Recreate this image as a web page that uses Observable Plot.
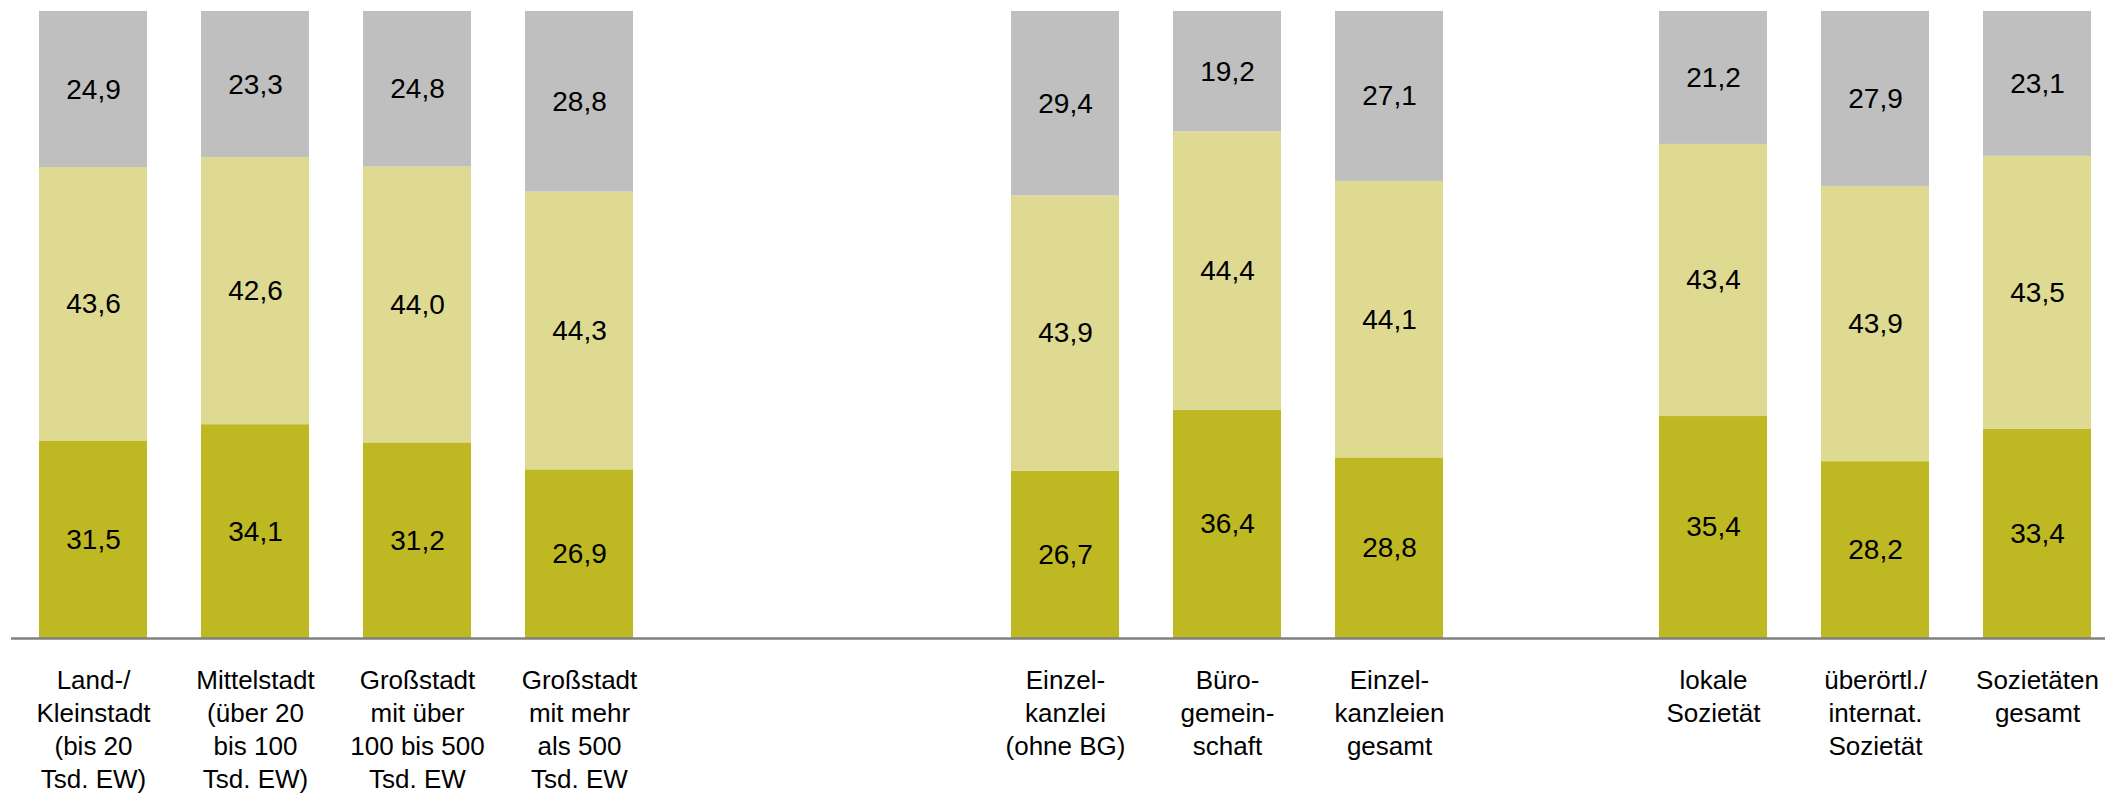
<!DOCTYPE html>
<html>
<head>
<meta charset="utf-8">
<script src="https://cdn.jsdelivr.net/npm/d3@7"></script>
<script src="https://cdn.jsdelivr.net/npm/@observablehq/plot@0.6"></script>
<style>
  html, body { margin: 0; padding: 0; background: #fff; overflow: hidden; }
  #chart svg { display: block; }
</style>
</head>
<body>
<div id="chart"></div>
<script>
// Category labels, in three groups (separated by empty slots)
const group1 = [
  "Land-/\nKleinstadt\n(bis 20\nTsd. EW)",
  "Mittelstadt\n(über 20\nbis 100\nTsd. EW)",
  "Großstadt\nmit über\n100 bis 500\nTsd. EW",
  "Großstadt\nmit mehr\nals 500\nTsd. EW"
];
const group2 = [
  "Einzel-\nkanzlei\n(ohne BG)",
  "Büro-\ngemein-\nschaft",
  "Einzel-\nkanzleien\ngesamt"
];
const group3 = [
  "lokale\nSozietät",
  "überörtl./\ninternat.\nSozietät",
  "Sozietäten\ngesamt"
];
const categories = [...group1, ...group2, ...group3];

// Series names (bottom → top)
const seriesNames = ["Segment unten", "Segment Mitte", "Segment oben"];

// Values per series, in category order
const bottomValues = [31.5, 34.1, 31.2, 26.9, 26.7, 36.4, 28.8, 35.4, 28.2, 33.4];
const middleValues = [43.6, 42.6, 44.0, 44.3, 43.9, 44.4, 44.1, 43.4, 43.9, 43.5];
const topValues    = [24.9, 23.3, 24.8, 28.8, 29.4, 19.2, 27.1, 21.2, 27.9, 23.1];

const seriesColors = ["#BEB823", "#DEDA92", "#BFBFBF"];

// Band domain with empty spacer slots between groups
const domain = [...group1, "gap1", "gap2", ...group2, "gap3", ...group3];

const allValues = [bottomValues, middleValues, topValues];
const data = [];
seriesNames.forEach((s, si) => {
  categories.forEach((c, ci) => {
    data.push({category: c, series: s, value: allValues[si][ci]});
  });
});

const fmt = v => v.toFixed(1).replace(".", ",");

const chart = Plot.plot({
  width: 2105,
  height: 798,
  marginTop: 11,
  marginBottom: 160,
  marginLeft: 11,
  marginRight: 0,
  style: {fontFamily: "'Liberation Sans', Arial, sans-serif", color: "#000", background: "#fff"},
  x: {type: "band", domain, range: [11.2, 2119], paddingInner: 0.3339, paddingOuter: 0.1669, axis: null},
  y: {domain: [0, 100], axis: null},
  color: {domain: seriesNames, range: seriesColors},
  marks: [
    Plot.barY(data, {
      x: "category", y: "value", fill: "series",
      order: seriesNames, z: "series"
    }),
    Plot.text(data, Plot.stackY({
      x: "category", y: "value", z: "series", order: seriesNames,
      text: d => fmt(d.value), fontSize: 28, fill: "#000"
    })),
    Plot.ruleY([0], {stroke: "#808080", strokeWidth: 2.5}),
    Plot.axisX({
      tickSize: 0, tickPadding: 27, fontSize: 26, lineHeight: 1.265,
      tickFormat: d => d.startsWith("gap") ? "" : d,
      fill: "#000", label: null
    })
  ]
});
document.getElementById("chart").appendChild(chart);
</script>
</body>
</html>
